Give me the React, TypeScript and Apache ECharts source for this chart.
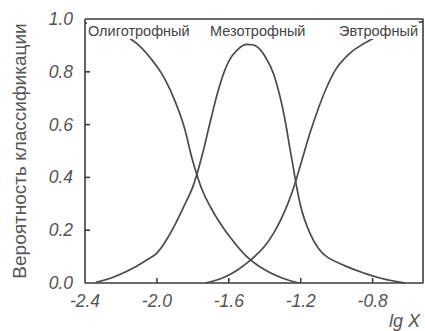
import React, { useEffect, useRef } from "react";
import * as echarts from "echarts";

// Classification probability curves vs lg X
const oligotrophic: [number, number][] = [
  [-2.4, 0.985], [-2.3, 0.97], [-2.2, 0.945], [-2.1, 0.9], [-2.0, 0.82],
  [-1.95, 0.765], [-1.9, 0.69], [-1.85, 0.595], [-1.8, 0.46], [-1.75, 0.355],
  [-1.7, 0.285], [-1.65, 0.228], [-1.6, 0.18], [-1.5, 0.1], [-1.4, 0.05],
  [-1.3, 0.018], [-1.21, 0.0],
];
const mesotrophic: [number, number][] = [
  [-2.34, 0.003], [-2.25, 0.02], [-2.15, 0.05], [-2.05, 0.09], [-2.0, 0.113],
  [-1.95, 0.16], [-1.9, 0.22], [-1.85, 0.29], [-1.8, 0.365], [-1.75, 0.48],
  [-1.7, 0.62], [-1.65, 0.75], [-1.6, 0.84], [-1.55, 0.885], [-1.5, 0.904],
  [-1.45, 0.898], [-1.4, 0.86], [-1.35, 0.79], [-1.3, 0.66], [-1.25, 0.47],
  [-1.2, 0.29], [-1.15, 0.19], [-1.1, 0.13], [-1.05, 0.097], [-0.95, 0.064],
  [-0.85, 0.038], [-0.75, 0.017], [-0.62, 0.0],
];
const eutrophic: [number, number][] = [
  [-1.73, 0.0], [-1.65, 0.015], [-1.6, 0.03], [-1.55, 0.05], [-1.5, 0.075],
  [-1.45, 0.105], [-1.4, 0.14], [-1.35, 0.19], [-1.3, 0.255], [-1.25, 0.34],
  [-1.2, 0.45], [-1.15, 0.565], [-1.1, 0.665], [-1.05, 0.75], [-1.0, 0.815],
  [-0.95, 0.855], [-0.9, 0.885], [-0.8, 0.925], [-0.7, 0.955], [-0.6, 0.978],
  [-0.52, 0.99],
];
const xTicks = [-2.0, -1.6, -1.2, -0.8];
const yTicks = [0.2, 0.4, 0.6, 0.8];
const xRange: [number, number] = [-2.4, -0.52];
const yRange: [number, number] = [0, 1];
const curveNames = ["Олиготрофный", "Мезотрофный", "Эвтрофный"];
const yTitle = "Вероятность классификации";
const xTitle = "lg X";

const ink = "#3d3d3d";
const font = "'Liberation Sans', Arial, sans-serif";

export default function App() {
  const ref = useRef<HTMLDivElement>(null);
  useEffect(() => {
    if (!ref.current) return;
    const chart = echarts.init(ref.current, undefined, { renderer: "svg" });
    const line = (data: [number, number][]) => ({
      type: "line",
      data,
      smooth: 0.4,
      showSymbol: false,
      lineStyle: { color: "#4a4a4a", width: 1.7 },
      z: 2,
    });
    const curveLabel = (text: string, left: number) => ({
      type: "text",
      left,
      top: 22,
      z: 10,
      style: {
        text,
        font: `14.5px ${font}`,
        fill: "#444",
        backgroundColor: "#fff",
        padding: [1, 1],
      },
    });
    const tickLabel = {
      formatter: (v: number) => v.toFixed(1),
      fontFamily: font,
      fontStyle: "italic",
      fontSize: 17.5,
      color: "#555",
    };
    // Plot frame traced along the axis extents
    const frameData: [number, number][] = [
      [xRange[0], yRange[1]],
      [xRange[0], yRange[0]],
      [xRange[1], yRange[0]],
      [xRange[1], yRange[1]],
      [xRange[0], yRange[1]],
    ];
    chart.setOption({
      animation: false,
      backgroundColor: "#fff",
      grid: { left: 85, top: 19, right: 2, bottom: 48 },
      xAxis: {
        type: "value",
        min: xRange[0],
        max: xRange[1],
        interval: 0.4,
        axisLine: { show: false },
        axisTick: { show: false },
        splitLine: { show: false },
        axisLabel: { ...tickLabel, showMaxLabel: false, margin: 9 },
      },
      yAxis: {
        type: "value",
        min: yRange[0],
        max: yRange[1],
        interval: 0.2,
        name: yTitle,
        nameLocation: "middle",
        nameGap: 56,
        nameTextStyle: { fontFamily: font, fontSize: 19, color: "#555" },
        axisLine: { show: false },
        axisTick: { show: false },
        splitLine: { show: false },
        axisLabel: { ...tickLabel, margin: 12 },
      },
      series: [
        {
          type: "line",
          data: frameData,
          showSymbol: false,
          clip: false,
          silent: true,
          lineStyle: { color: ink, width: 1.6 },
          z: 1,
        },
        line(oligotrophic),
        line(mesotrophic),
        line(eutrophic),
      ],
    });

    // Inward ticks, placed through the chart's own scales
    const px = (x: number, y: number) =>
      chart.convertToPixel({ xAxisIndex: 0, yAxisIndex: 0 }, [x, y]) as number[];
    const [x0, y0] = px(xRange[0], yRange[0]);
    const stroke = { stroke: ink, lineWidth: 1.6 };
    const ticks: any[] = [
      ...xTicks.map((v) => {
        const [tx] = px(v, 0);
        return { type: "line", z: 5, shape: { x1: tx, y1: y0, x2: tx, y2: y0 - 5 }, style: stroke };
      }),
      ...yTicks.map((v) => {
        const [, ty] = px(xRange[0], v);
        return { type: "line", z: 5, shape: { x1: x0, y1: ty, x2: x0 + 5, y2: ty }, style: stroke };
      }),
    ];
    chart.setOption({
      graphic: [
        ...ticks,
        curveLabel(curveNames[0], 87),
        curveLabel(curveNames[1], 209),
        curveLabel(curveNames[2], 338),
        {
          type: "text",
          right: 5,
          top: 312,
          style: {
            text: xTitle,
            font: `italic 18px ${font}`,
            fill: "#555",
          },
        },
      ],
    });
    return () => chart.dispose();
  }, []);
  return (
    <div
      ref={ref}
      style={{ position: "fixed", left: 0, top: 0, width: 425, height: 331 }}
    />
  );
}
